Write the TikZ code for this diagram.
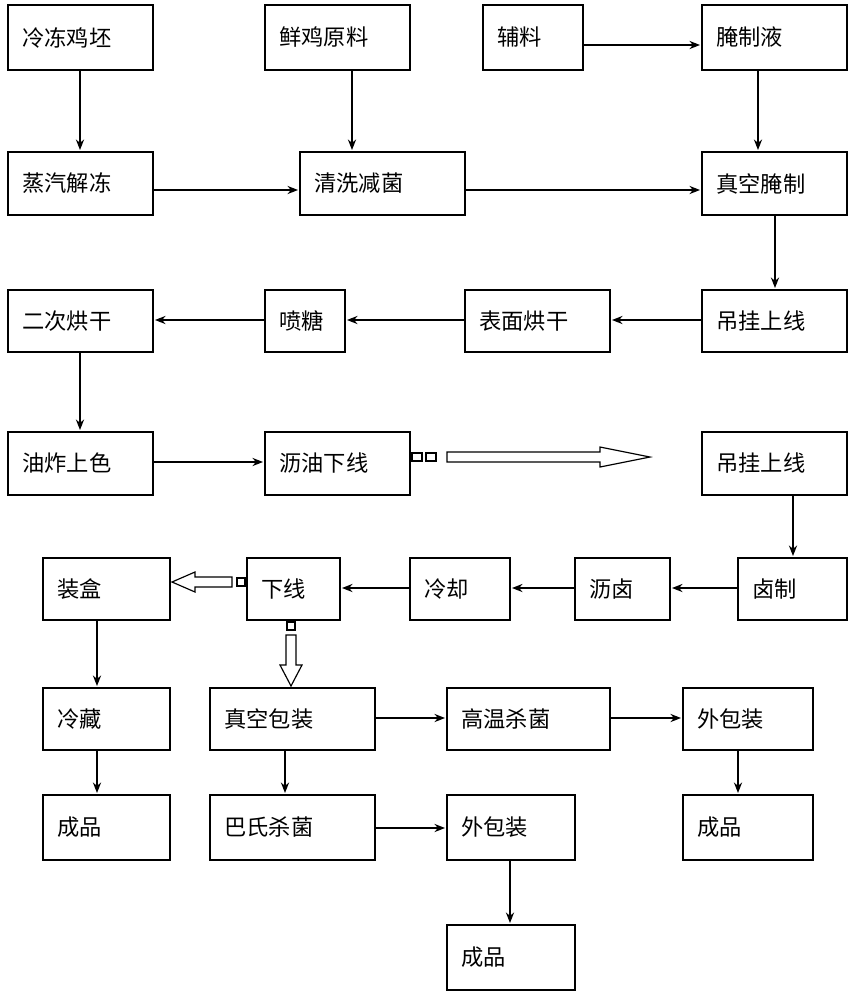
\documentclass[tikz,border=0pt]{standalone}
\usepackage{fontspec}
\newfontfamily\cjk{Noto Sans CJK SC}
\usetikzlibrary{arrows.meta}
\begin{document}
\begin{tikzpicture}[x=0.03cm,y=-0.03cm,
 box/.style={draw,line width=1pt},
 lab/.style={anchor=west,font=\cjk\fontsize{19}{22}\selectfont,inner sep=0pt},
 arr/.style={line width=1pt,-{Stealth[length=9pt,width=7pt]}}]
\useasboundingbox (0,0) rectangle (861,1000);
% boxes
\newcommand{\stage}[6]{\draw[box] (#2,#3) rectangle (#4,#5);
 \node[lab] (#1) at (#2+14,{(#3+#5)/2}) {#6};
 \coordinate (#1-nw) at (#2,#3); \coordinate (#1-se) at (#4,#5);}
\stage{a}{8}{5}{153}{70}{冷冻鸡坯}
\stage{b}{265}{5}{410}{70}{鲜鸡原料}
\stage{c}{483}{5}{583}{70}{辅料}
\stage{d}{702}{5}{847}{70}{腌制液}
\stage{e}{8}{152}{153}{215}{蒸汽解冻}
\stage{f}{300}{152}{465}{215}{清洗减菌}
\stage{g}{702}{152}{847}{215}{真空腌制}
\stage{h}{8}{290}{153}{352}{二次烘干}
\stage{i}{265}{290}{345}{352}{喷糖}
\stage{j}{465}{290}{610}{352}{表面烘干}
\stage{k}{702}{290}{847}{352}{吊挂上线}
\stage{l}{8}{432}{153}{495}{油炸上色}
\stage{m}{265}{432}{410}{495}{沥油下线}
\stage{n}{702}{432}{847}{495}{吊挂上线}
\stage{o}{43}{558}{170}{620}{装盒}
\stage{p}{247}{558}{340}{620}{下线}
\stage{q}{410}{558}{510}{620}{冷却}
\stage{r}{575}{558}{670}{620}{沥卤}
\stage{s}{738}{558}{847}{620}{卤制}
\stage{t}{43}{688}{170}{750}{冷藏}
\stage{u}{210}{688}{375}{750}{真空包装}
\stage{v}{447}{688}{610}{750}{高温杀菌}
\stage{w}{683}{688}{813}{750}{外包装}
\stage{x}{43}{795}{170}{860}{成品}
\stage{y}{210}{795}{375}{860}{巴氏杀菌}
\stage{z}{447}{795}{575}{860}{外包装}
\stage{zz}{683}{795}{813}{860}{成品}
\stage{zf}{447}{925}{575}{990}{成品}
% connectors
\draw[arr] (80,70) -- (80,150);
\draw[arr] (352,70) -- (352,150);
\draw[arr] (583,45) -- (700,45);
\draw[arr] (758,70) -- (758,150);
\draw[arr] (153,190) -- (298,190);
\draw[arr] (465,190) -- (700,190);
\draw[arr] (775,215) -- (775,288);
\draw[arr] (702,320) -- (612,320);
\draw[arr] (465,320) -- (347,320);
\draw[arr] (265,320) -- (155,320);
\draw[arr] (80,352) -- (80,430);
\draw[arr] (153,462) -- (263,462);
\draw[arr] (793,495) -- (793,556);
\draw[arr] (738,588) -- (672,588);
\draw[arr] (575,588) -- (512,588);
\draw[arr] (410,588) -- (342,588);
\draw[arr] (97,620) -- (97,686);
\draw[arr] (97,750) -- (97,793);
\draw[arr] (375,718) -- (445,718);
\draw[arr] (610,718) -- (681,718);
\draw[arr] (285,750) -- (285,793);
\draw[arr] (375,828) -- (445,828);
\draw[arr] (510,860) -- (510,923);
\draw[arr] (738,750) -- (738,793);
% hollow arrows
\draw[line width=1pt] (412,453) rectangle (422,461) (426,453) rectangle (436,461);
\draw[line width=1pt] (447,452) -- (600,452) -- (600,447) -- (650,457) -- (600,467) -- (600,462) -- (447,462) -- cycle;
\draw[line width=1pt] (237,578) rectangle (245,586);
\draw[line width=1pt] (232,577) -- (195,577) -- (195,572) -- (172,582) -- (195,592) -- (195,587) -- (232,587) -- cycle;
\draw[line width=1pt] (287,622) rectangle (295,630);
\draw[line width=1pt] (286,635) -- (286,665) -- (280,665) -- (291,686) -- (302,665) -- (296,665) -- (296,635) -- cycle;
\end{tikzpicture}
\end{document}
